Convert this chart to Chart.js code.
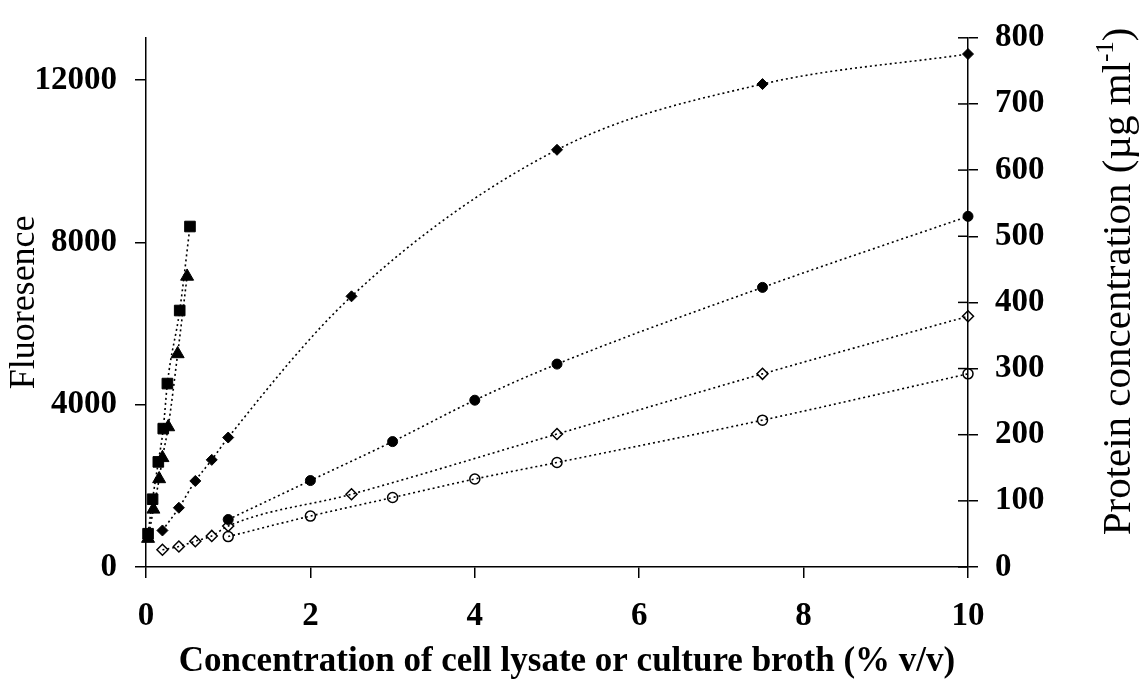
<!DOCTYPE html>
<html><head><meta charset="utf-8">
<script src="https://cdn.jsdelivr.net/npm/chart.js@4"></script>
<style>html,body{margin:0;padding:0;background:#fff}#wrap{width:1142px;height:686px;position:relative}</style>
</head><body><div id="wrap"><canvas id="c"></canvas></div>
<script>
// ---- data ----
const xTicks = [0, 2, 4, 6, 8, 10];
const leftTicks = [0, 4000, 8000, 12000];
const rightTicks = [0, 100, 200, 300, 400, 500, 600, 700, 800];

// Fluorescence (left axis)
const squareX = [0.025, 0.08, 0.15, 0.21, 0.26, 0.41, 0.535];
const squareY = [820, 1670, 2590, 3410, 4520, 6320, 8390];
const triangleX = [0.025, 0.09, 0.16, 0.2, 0.27, 0.385, 0.5];
const triangleY = [700, 1420, 2170, 2690, 3450, 5250, 7160];
const filledDiamondX = [0.2, 0.4, 0.6, 0.8, 1, 2.5, 5, 7.5, 10];
const filledDiamondY = [900, 1460, 2120, 2640, 3190, 6670, 10280, 11900, 12640];
const filledCircleX = [1, 2, 3, 4, 5, 7.5, 10];
const filledCircleY = [1170, 2130, 3090, 4110, 5000, 6890, 8640];

// Protein concentration (right axis, µg/ml)
const openDiamondX = [0.2, 0.4, 0.6, 0.8, 1, 2.5, 5, 7.5, 10];
const openDiamondY = [26, 31, 39, 47, 62, 110, 201, 292, 379];
const openCircleX = [1, 2, 3, 4, 5, 7.5, 10];
const openCircleY = [46, 77, 105, 133, 158, 222, 292];

const xTitle = 'Concentration of cell lysate or culture broth (% v/v)';
const leftTitle = 'Fluoresence';
const rightTitleMain = 'Protein concentration (\u00B5g ml';
const rightTitleSup = '-1';
const rightTitleEnd = ')';

// ---- chart ----
const SERIF = "'Liberation Serif', 'Times New Roman', serif";
Chart.defaults.font.family = SERIF;
Chart.defaults.color = '#000';

const pts = (xs, ys) => xs.map((x, i) => ({x: x, y: ys[i]}));
function ds(xs, ys, style, radius, filled, axis) {
  return {
    data: pts(xs, ys),
    yAxisID: axis,
    borderColor: '#000',
    borderWidth: 1.6,
    borderDash: [2, 3],
    cubicInterpolationMode: 'monotone',
    pointStyle: style,
    pointRadius: radius,
    pointHoverRadius: radius,
    pointBackgroundColor: filled ? '#000' : 'rgba(0,0,0,0)',
    pointBorderColor: '#000',
    pointBorderWidth: filled ? 1 : 1.5,
    fill: false,
    clip: false
  };
}

const extras = {
  id: 'extras',
  afterDraw(chart) {
    const ctx = chart.ctx, y1 = chart.scales.y1, x = chart.scales.x, a = chart.chartArea;
    ctx.save();
    ctx.strokeStyle = '#000';
    ctx.lineWidth = 1.5;
    // inner half of the right-axis tick marks
    y1.ticks.forEach(t => {
      const py = y1.getPixelForValue(t.value);
      ctx.beginPath(); ctx.moveTo(a.right - 10, py); ctx.lineTo(a.right, py); ctx.stroke();
    });
    ctx.fillStyle = '#000';
    // x-axis title
    ctx.font = 'bold 35px ' + SERIF;
    ctx.textAlign = 'center';
    ctx.textBaseline = 'middle';
    ctx.fillText(xTitle, x.getPixelForValue(5) + 10, 662);
    // right axis title, reading bottom-to-top, with superscript
    const fs = 41;
    ctx.textBaseline = 'alphabetic';
    ctx.textAlign = 'left';
    ctx.translate(1130, (a.top + a.bottom) / 2 - 21);
    ctx.rotate(-Math.PI / 2);
    ctx.font = fs + 'px ' + SERIF;
    const w1 = ctx.measureText(rightTitleMain).width;
    const w3 = ctx.measureText(rightTitleEnd).width;
    ctx.font = Math.round(fs * 0.6) + 'px ' + SERIF;
    const w2 = ctx.measureText(rightTitleSup).width;
    let px = -(w1 + w2 + w3) / 2;
    ctx.font = fs + 'px ' + SERIF;
    ctx.fillText(rightTitleMain, px, 0); px += w1;
    ctx.font = Math.round(fs * 0.6) + 'px ' + SERIF;
    ctx.fillText(rightTitleSup, px, -fs * 0.42); px += w2;
    ctx.font = fs + 'px ' + SERIF;
    ctx.fillText(rightTitleEnd, px, 0);
    ctx.restore();
  }
};

const tickFont = {family: SERIF, size: 33, weight: 'bold'};
const axisGrid = {display: true, drawOnChartArea: false, drawTicks: true, tickLength: 11, color: '#000', lineWidth: 1.5};
const setTicks = arr => (scale => { scale.ticks = arr.map(v => ({value: v})); });
const plain = v => String(v);

new Chart(document.getElementById('c'), {
  type: 'line',
  data: {
    datasets: [
      ds(squareX, squareY, 'rect', 7.5, true, 'y'),
      ds(triangleX, triangleY, 'triangle', 7.5, true, 'y'),
      ds(filledDiamondX, filledDiamondY, 'rectRot', 5.5, true, 'y'),
      ds(filledCircleX, filledCircleY, 'circle', 5, true, 'y'),
      ds(openDiamondX, openDiamondY, 'rectRot', 5.5, false, 'y1'),
      ds(openCircleX, openCircleY, 'circle', 5, false, 'y1')
    ]
  },
  options: {
    responsive: true,
    maintainAspectRatio: false,
    animation: false,
    events: [],
    layout: {padding: {top: 25, left: 0, right: 0, bottom: 0}},
    plugins: {legend: {display: false}, tooltip: {enabled: false}},
    scales: {
      x: {
        type: 'linear', min: 0, max: 10,
        afterBuildTicks: setTicks(xTicks),
        afterFit: s => { s.height = 119; },
        border: {display: true, color: '#000', width: 1.5},
        grid: axisGrid,
        ticks: {font: tickFont, padding: 19, maxRotation: 0, callback: plain}
      },
      y: {
        type: 'linear', position: 'left', min: 0, max: 13040,
        afterBuildTicks: setTicks(leftTicks),
        afterFit: s => { s.width = 146; },
        border: {display: true, color: '#000', width: 1.5},
        grid: axisGrid,
        ticks: {font: tickFont, padding: 18, callback: plain},
        title: {display: true, text: leftTitle, font: {family: SERIF, size: 36, weight: 'normal'}, padding: {top: 3, bottom: 0}}
      },
      y1: {
        type: 'linear', position: 'right', min: 0, max: 800,
        afterBuildTicks: setTicks(rightTicks),
        afterFit: s => { s.width = 174; },
        border: {display: true, color: '#000', width: 1.5},
        grid: Object.assign({}, axisGrid, {tickLength: 10}),
        ticks: {font: tickFont, padding: 17, callback: plain}
      }
    }
  },
  plugins: [extras]
});
</script>
</body></html>
